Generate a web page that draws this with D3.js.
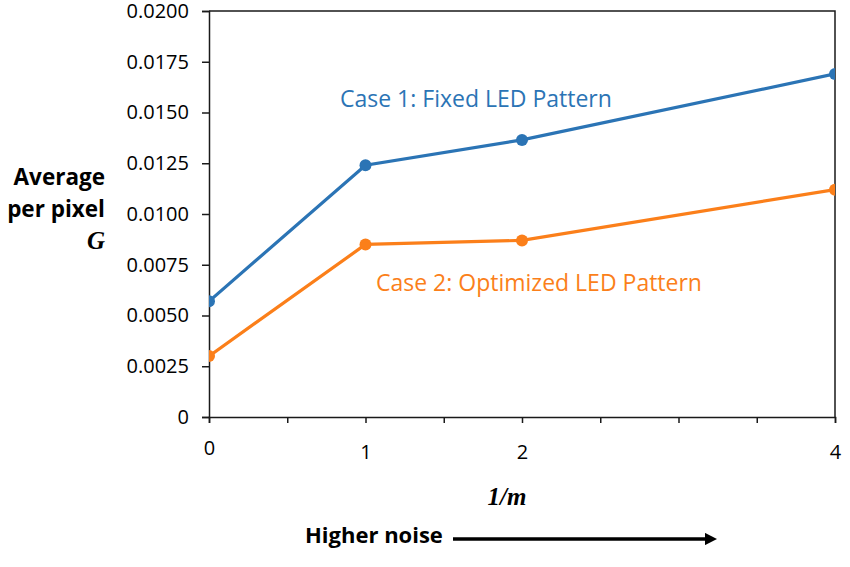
<!DOCTYPE html>
<html>
<head>
<meta charset="utf-8">
<script src="https://cdn.jsdelivr.net/npm/d3@7"></script>
<style>
	body { margin: 0; background: #fff; }
	text { font-family: "Open Sans", sans-serif; }
</style>
</head>
<body>
<svg id="chart" width="850" height="567"></svg>
<script>
// data
var xValues = [0, 1, 2, 4];
var fixedPattern = [0.0057, 0.0124, 0.01365, 0.0169];
var optimizedPattern = [0.0030, 0.0085, 0.0087, 0.0112];
var yTicks = [0, 0.0025, 0.005, 0.0075, 0.01, 0.0125, 0.015, 0.0175, 0.02];
var xTicks = [0, 0.5, 1, 1.5, 2, 2.5, 3, 3.5, 4];
var xTickLabels = [0, 1, 2, 4];

var svg = d3.select("#chart");
var margin = {left: 209, right: 15, top: 11, bottom: 150};
var width = 850 - margin.left - margin.right;
var height = 567 - margin.top - margin.bottom;

var x = d3.scaleLinear().domain([0, 4]).range([0, width]);
var y = d3.scaleLinear().domain([0, 0.02]).range([height, 0]);

var g = svg.append("g").attr("transform", "translate(" + margin.left + "," + margin.top + ")");

svg.append("defs").append("clipPath").attr("id", "plotClip")
	.append("rect").attr("width", width).attr("height", height);

// frame (top and right sides)
g.append("path")
	.attr("d", "M0,0H" + width + "V" + height)
	.attr("fill", "none")
	.attr("stroke", "#1a1a1a")
	.attr("stroke-width", 1.5);

var yAxis = g.append("g")
	.call(d3.axisLeft(y).tickValues(yTicks).tickSize(7).tickPadding(13)
		.tickFormat(function(d){ return d === 0 ? "0" : d3.format(".4f")(d); }));
yAxis.selectAll("text").style("font-size", "20px").attr("fill", "#000");

var xAxis = g.append("g")
	.attr("transform", "translate(0," + height + ")")
	.call(d3.axisBottom(x).tickValues(xTicks).tickSize(6).tickPadding(18)
		.tickFormat(function(d){ return xTickLabels.indexOf(d) >= 0 ? d : ""; }));
xAxis.selectAll("text").style("font-size", "20px").attr("fill", "#000")
	.attr("dy", function(d){ return d === 0 ? "14px" : "18px"; });

[yAxis, xAxis].forEach(function(a){
	a.select(".domain").attr("stroke", "#1a1a1a").attr("stroke-width", 1.5);
	a.selectAll(".tick line").attr("stroke", "#1a1a1a").attr("stroke-width", 1.5);
});

var series = [
	{name: "Case 1: Fixed LED Pattern", values: fixedPattern, color: "#2b74b5", lx: 340, ly: 107},
	{name: "Case 2: Optimized LED Pattern", values: optimizedPattern, color: "#fb7f1a", lx: 376, ly: 291}
];

var line = d3.line()
	.x(function(d){ return x(d[0]); })
	.y(function(d){ return y(d[1]); });

var plot = g.append("g").attr("clip-path", "url(#plotClip)");
series.forEach(function(s){
	var pts = xValues.map(function(v, i){ return [v, s.values[i]]; });
	plot.append("path")
		.datum(pts)
		.attr("d", line)
		.attr("fill", "none")
		.attr("stroke", s.color)
		.attr("stroke-width", 3.2);
	plot.selectAll(null)
		.data(pts).enter()
		.append("circle")
		.attr("cx", function(d){ return x(d[0]); })
		.attr("cy", function(d){ return y(d[1]); })
		.attr("r", 6)
		.attr("fill", s.color);
	svg.append("text")
		.attr("x", s.lx)
		.attr("y", s.ly)
		.attr("fill", s.color)
		.style("font-size", "23px")
		.text(s.name);
});

// y axis title
var yTitle = svg.append("text").attr("text-anchor", "end").style("font-weight", "bold").style("font-size", "22.5px");
yTitle.append("tspan").attr("x", 105).attr("y", 185).text("Average");
yTitle.append("tspan").attr("x", 105).attr("y", 217).text("per pixel");
svg.append("text")
	.attr("x", 105).attr("y", 249)
	.attr("text-anchor", "end")
	.style("font-family", "'Liberation Serif', serif")
	.style("font-weight", "bold").style("font-style", "italic").style("font-size", "25px")
	.text("G");

// x axis title
svg.append("text")
	.attr("x", 507).attr("y", 505)
	.attr("text-anchor", "middle")
	.style("font-family", "'Liberation Serif', serif")
	.style("font-weight", "bold").style("font-style", "italic").style("font-size", "25px")
	.text("1/m");

svg.append("text")
	.attr("x", 305).attr("y", 543)
	.style("font-weight", "bold").style("font-size", "22px")
	.text("Higher noise");

svg.select("defs").append("marker")
	.attr("id", "arrowHead")
	.attr("viewBox", "0 0 10 10")
	.attr("refX", 0).attr("refY", 5)
	.attr("markerWidth", 3.4).attr("markerHeight", 3.4)
	.attr("orient", "auto")
	.append("path").attr("d", "M0,0L10,5L0,10Z").attr("fill", "#000");

svg.append("line")
	.attr("x1", 453).attr("y1", 539)
	.attr("x2", 705).attr("y2", 539)
	.attr("stroke", "#000").attr("stroke-width", 3.6)
	.attr("marker-end", "url(#arrowHead)");
</script>
</body>
</html>
